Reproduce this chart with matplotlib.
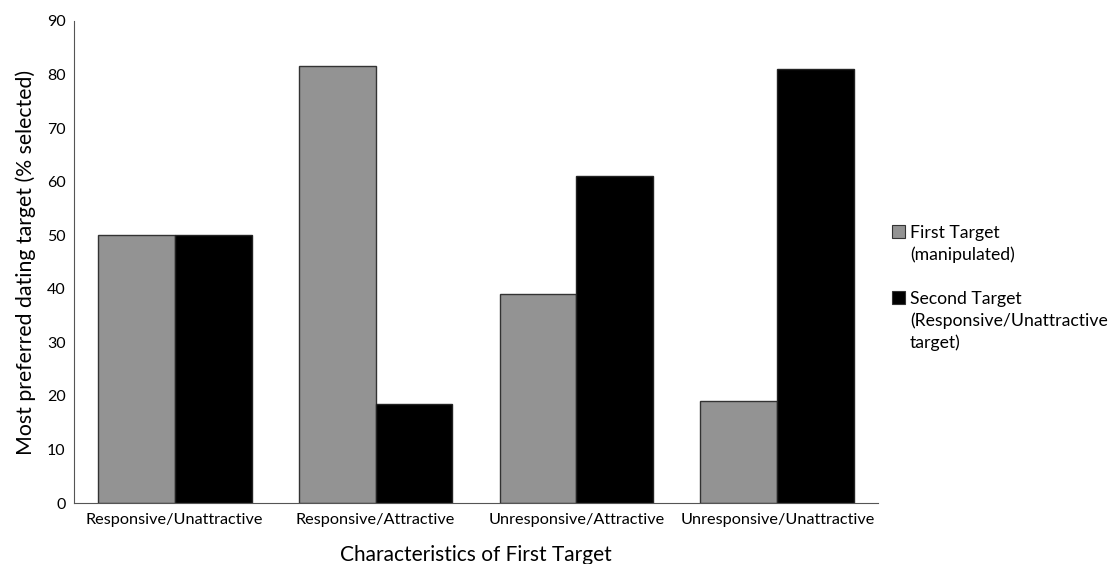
import matplotlib
matplotlib.use("Agg")
import matplotlib.pyplot as plt
from matplotlib.patches import Patch
import numpy as np

# ── Data ──────────────────────────────────────────────────────────────────────
categories = ["Responsive/Unattractive", "Responsive/Attractive",
              "Unresponsive/Attractive", "Unresponsive/Unattractive"]
first_target = [50, 81.5, 39, 19]
second_target = [50, 18.5, 61, 81]
legend_lines = [["First Target", "(manipulated)"],
                ["Second Target", "(Responsive/Unattractive", "target)"]]

GRAY = "#939393"
BLACK = "#000000"

plt.rcParams["font.family"] = ["Lato", "DejaVu Sans"]

fig = plt.figure(figsize=(11.15, 5.64), dpi=100)
ax = fig.add_axes([0.0664, 0.108, 0.7210, 0.855])

x = np.arange(len(categories))
w = 0.383
ax.bar(x - w / 2, first_target, w, color=GRAY, edgecolor="#333333", lw=1.0)
ax.bar(x + w / 2, second_target, w, color=BLACK, edgecolor="#222222", lw=1.0)

ax.set_xlim(-0.5, len(categories) - 0.5)
ax.set_ylim(0, 90)
ax.set_yticks(range(0, 91, 10))
ax.set_xticks(x)
ax.set_xticklabels(categories)
ax.tick_params(axis="y", length=0, labelsize=11.5, pad=6)
ax.tick_params(axis="x", length=0, labelsize=11.7, pad=7)
for s in ["top", "right"]:
    ax.spines[s].set_visible(False)
ax.spines["left"].set_color("#555555")
ax.spines["bottom"].set_color("#555555")

ax.set_ylabel("Most preferred dating target (% selected)", fontsize=15.3, labelpad=8)
ax.set_xlabel("Characteristics of First Target", fontsize=15, labelpad=13)

# legend: square aligned with first line of each multi-line label
blank = Patch(facecolor="none", edgecolor="none")
handles, texts = [], []
for i, (lines, col) in enumerate(zip(legend_lines, [GRAY, BLACK])):
    if i > 0:
        handles.append(blank)
        texts.append(" ")
    handles.append(Patch(facecolor=col, edgecolor="#333333", lw=0.8))
    texts.append(lines[0])
    for extra in lines[1:]:
        handles.append(blank)
        texts.append(extra)

fig.legend(handles, texts, loc="upper left", bbox_to_anchor=(0.786, 0.63),
           frameon=False, fontsize=12.7, handlelength=0.75, handleheight=0.75,
           handletextpad=0.25, labelspacing=0.33)

fig.savefig("out.png", dpi=100)
